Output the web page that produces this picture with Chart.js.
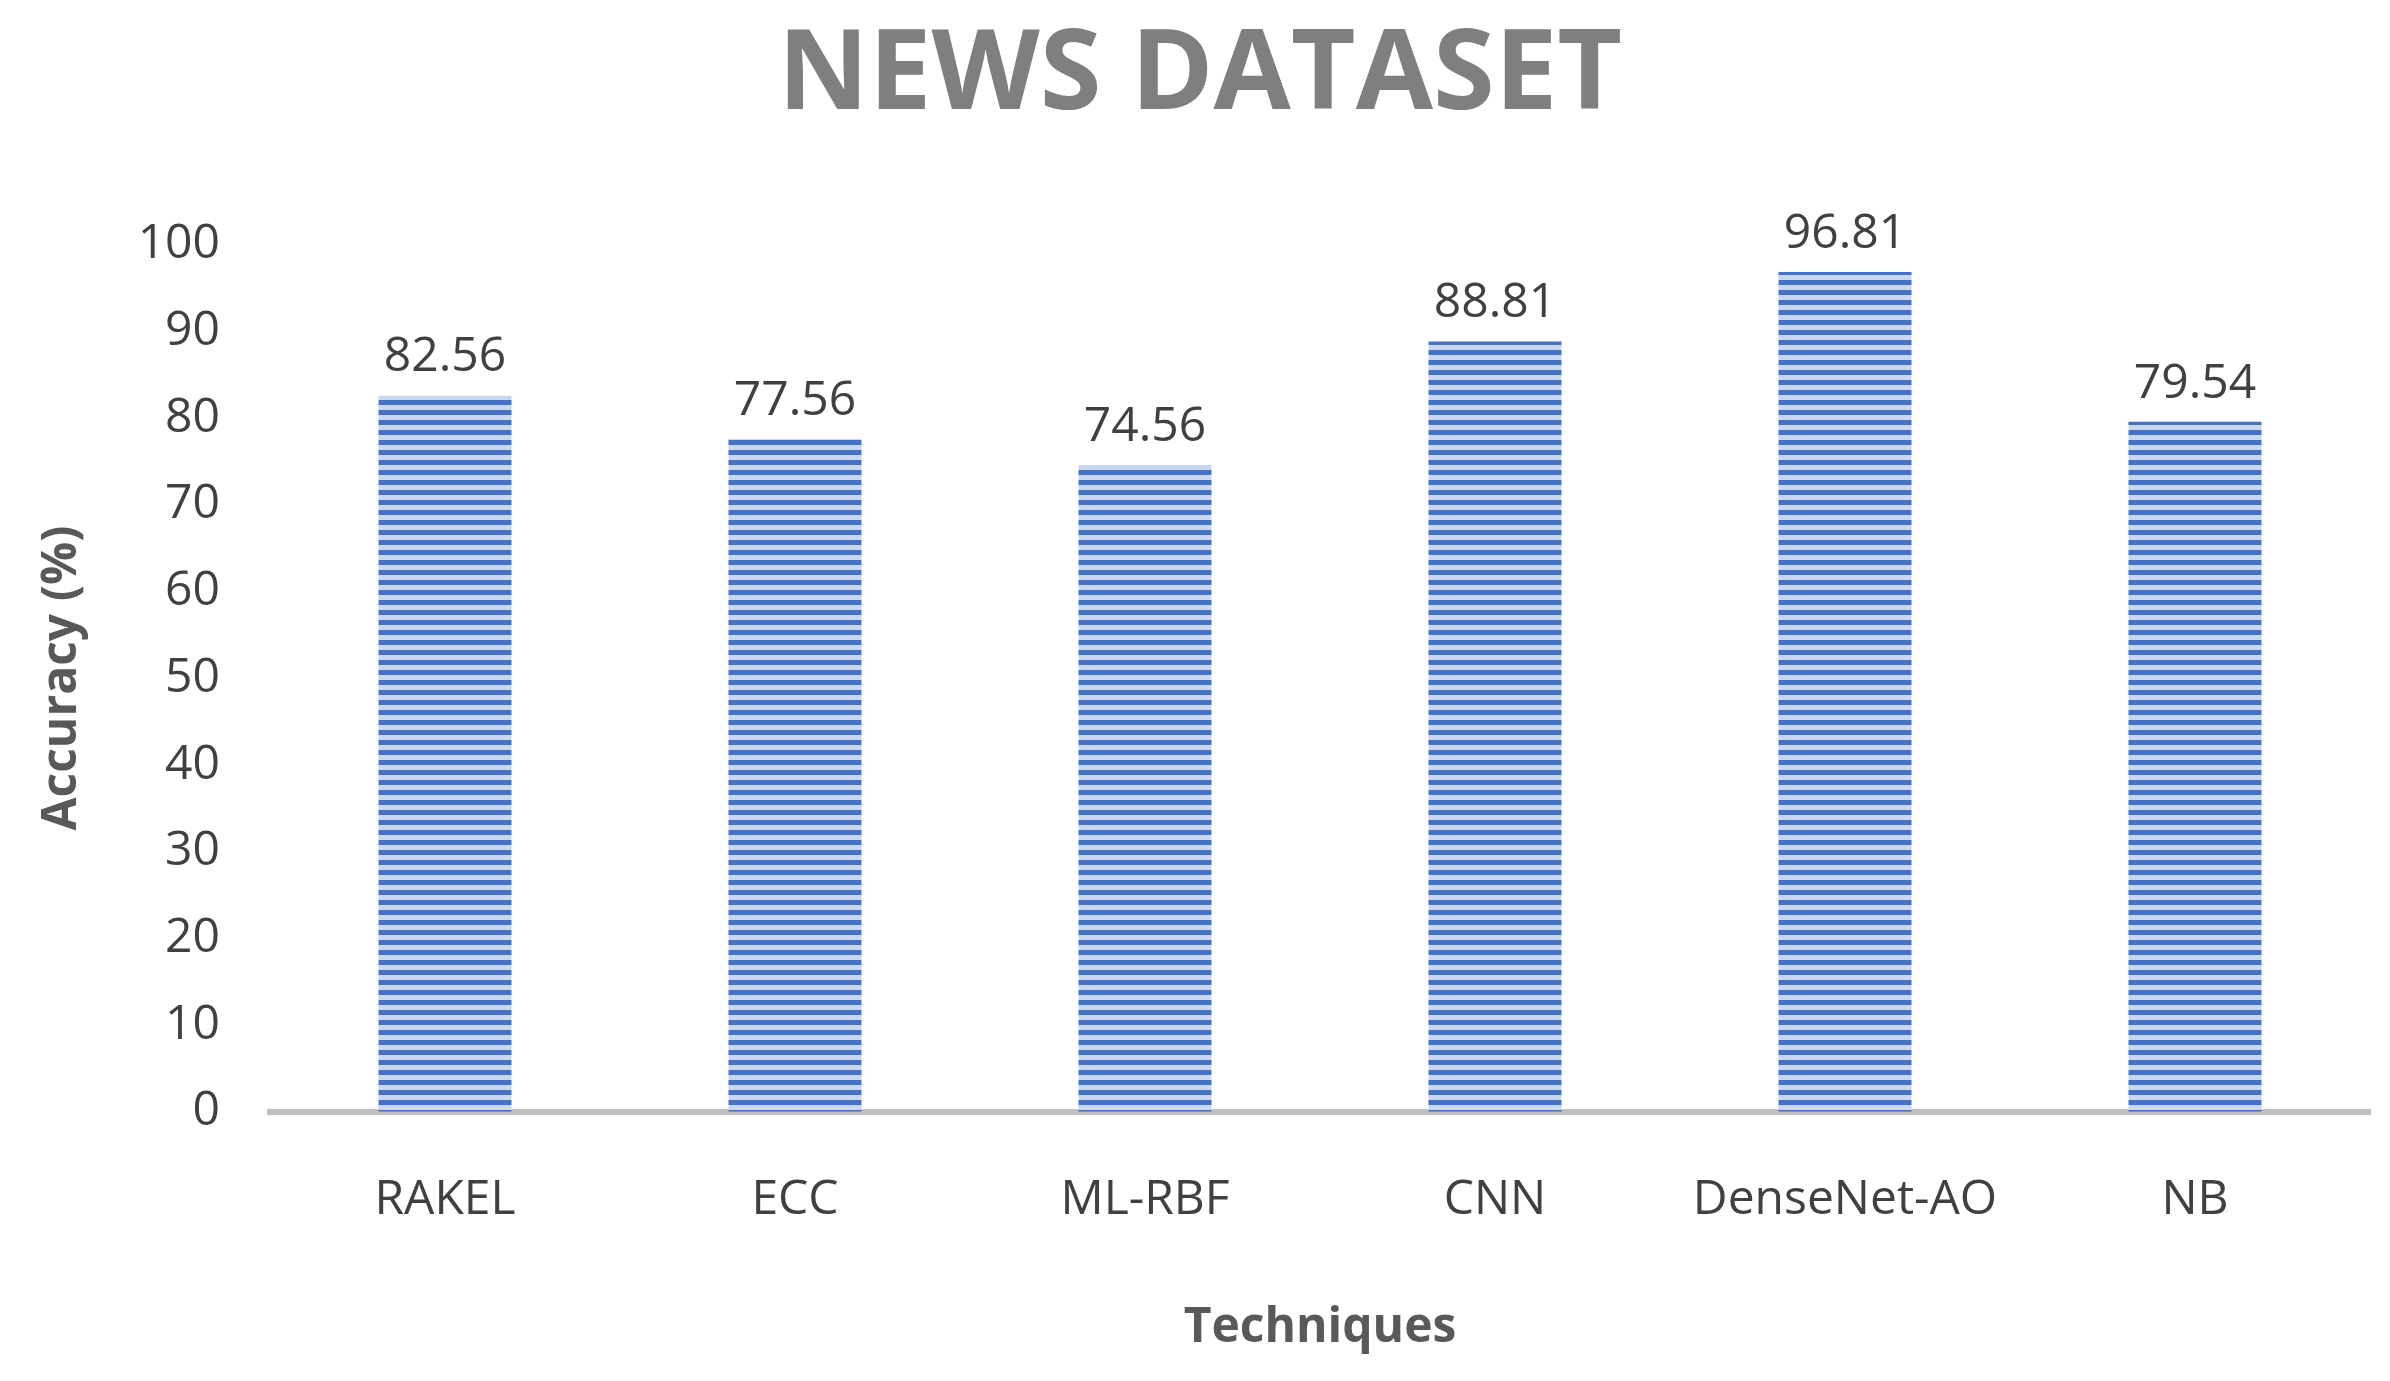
<!DOCTYPE html>
<html>
<head>
<meta charset="utf-8">
<script src="https://cdn.jsdelivr.net/npm/chart.js@4"></script>
<style>
  html, body { margin: 0; padding: 0; background: #fff; }
  #wrap { width: 2390px; height: 1381px; position: relative; }
</style>
</head>
<body>
<div id="wrap"><canvas id="newsChart"></canvas></div>
<script>
// Data
const techniques = ['RAKEL', 'ECC', 'ML-RBF', 'CNN', 'DenseNet-AO', 'NB'];
const accuracy = [82.56, 77.56, 74.56, 88.81, 96.81, 79.54];
const yTicks = [0, 10, 20, 30, 40, 50, 60, 70, 80, 90, 100];

// Striped fill like the original bars
function stripePattern(ctx) {
    const c = document.createElement('canvas');
    c.width = 8; c.height = 10;
    const p = c.getContext('2d');
    p.fillStyle = '#c9d6f0';
    p.fillRect(0, 0, 8, 10);
    p.fillStyle = '#4472c4';
    p.fillRect(0, 0, 8, 5);
    return ctx.createPattern(c, 'repeat');
}

// Value labels above bars
const valueLabels = {
    id: 'valueLabels',
    afterDatasetsDraw(chart) {
        const ctx = chart.ctx;
        const meta = chart.getDatasetMeta(0);
        ctx.save();
        ctx.font = '48px "Open Sans"';
        ctx.fillStyle = '#404040';
        ctx.textAlign = 'center';
        ctx.textBaseline = 'bottom';
        meta.data.forEach((bar, i) => {
            ctx.fillText(accuracy[i].toFixed(2), bar.x, bar.y - 14);
        });
        ctx.restore();
    }
};

const canvas = document.getElementById('newsChart');
const ctx = canvas.getContext('2d');

new Chart(canvas, {
    type: 'bar',
    data: {
        labels: techniques,
        datasets: [{
            label: 'Accuracy',
            data: accuracy,
            backgroundColor: stripePattern(ctx),
            categoryPercentage: 1.0,
            barPercentage: 0.38
        }]
    },
    options: {
        responsive: true,
        maintainAspectRatio: false,
        animation: false,
        layout: { padding: { left: 30, right: 20, top: 10, bottom: 20 } },
        scales: {
            x: {
                grid: { display: false, drawTicks: false },
                border: { display: true, color: '#bfbfbf', width: 6 },
                ticks: { color: '#404040', font: { size: 48, family: 'Open Sans' }, padding: 60 },
                title: { display: true, text: 'Techniques', color: '#595959',
                         font: { size: 48, weight: 'bold', family: 'Open Sans' }, padding: { top: 10 } }
            },
            y: {
                min: 0, max: 100,
                afterBuildTicks: axis => { axis.ticks = yTicks.map(v => ({ value: v })); },
                afterFit: axis => { axis.width = 240; },
                grid: { display: false, drawTicks: false },
                border: { display: false },
                ticks: { color: '#404040', font: { size: 48, family: 'Open Sans' }, padding: 50 },
                title: { display: true, text: 'Accuracy (%)', color: '#595959',
                         font: { size: 48, weight: 'bold', family: 'Open Sans' } }
            }
        },
        plugins: {
            legend: { display: false },
            tooltip: { enabled: false },
            title: {
                display: true,
                text: 'NEWS DATASET',
                color: '#7f7f7f',
                font: { size: 112, weight: 'bold', family: 'Open Sans' },
                padding: { top: 0, bottom: 100 }
            }
        }
    },
    plugins: [valueLabels]
});
</script>
</body>
</html>
